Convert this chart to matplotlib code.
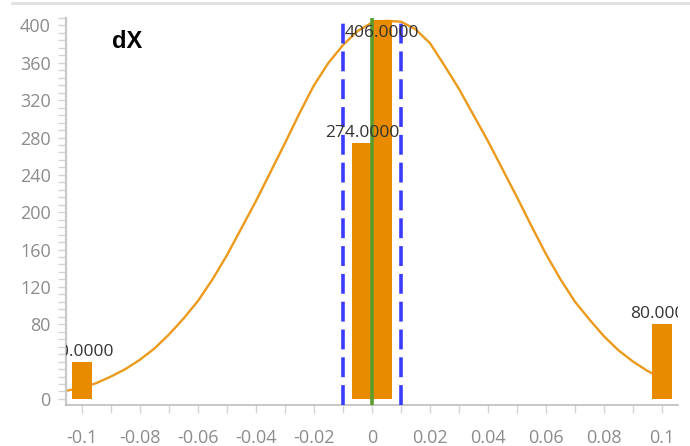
import numpy as np
import matplotlib
matplotlib.use("Agg")
import matplotlib.pyplot as plt
from matplotlib.lines import Line2D
from matplotlib.ticker import FixedLocator, MultipleLocator

# histogram bins (centre, count)
bin_centers = [-0.1, -0.0035, 0.0035, 0.1]
bin_counts = [40, 274, 406, 80]
bin_width = 0.007

# fitted curve
curve_x = [-0.105, -0.1, -0.095, -0.09, -0.085, -0.08, -0.075, -0.07, -0.065, -0.06,
           -0.055, -0.05, -0.045, -0.04, -0.035, -0.03, -0.025, -0.02, -0.015, -0.01,
           -0.005, 0.0, 0.005, 0.01, 0.015, 0.02, 0.025, 0.03, 0.035, 0.04,
           0.045, 0.05, 0.055, 0.06, 0.065, 0.07, 0.075, 0.08, 0.085, 0.09,
           0.095, 0.1]
curve_y = [9, 12, 17, 24, 32, 42, 54, 69, 86, 105,
           128, 154, 183, 212, 243, 274, 306, 336, 360, 379,
           394, 403, 405, 404, 396, 381, 357, 332, 304, 276,
           246, 216, 185, 155, 128, 104, 85, 67, 52, 40,
           30, 22]

mean_x = 0.0
limits_x = [-0.01, 0.01]

x_ticks = [-0.1, -0.08, -0.06, -0.04, -0.02, 0, 0.02, 0.04, 0.06, 0.08, 0.1]
x_labels = ["-0.1", "-0.08", "-0.06", "-0.04", "-0.02", "0", "0.02", "0.04", "0.06", "0.08", "0.1"]
y_ticks = [0, 80, 120, 160, 200, 240, 280, 320, 360, 400]

orange = "#e88b00"
tick_grey = "#8c8c8c"

fig = plt.figure(figsize=(6.9, 4.46), dpi=100)
ax = fig.add_axes([66/690, 1-405/446, 612/690, 387/446])

ax.plot(curve_x, curve_y, color="#eb9a1c", lw=1.7, zorder=1,
        solid_joinstyle="round")
ax.bar(bin_centers, bin_counts, width=bin_width, color=orange, zorder=2)
ax.axvline(mean_x, color="#5c9c2c", lw=2.6, zorder=3)
for lx in limits_x:
    ax.axvline(lx, color="#3b3bff", lw=2.6, dashes=(5.5, 2.2), zorder=3)

ax.set_xlim(-0.1055, 0.1055)
ax.set_ylim(-6.5, 408)

for c, n in zip(bin_centers, bin_counts):
    lab = f"{n:.4f}"
    if n > 380:
        # no room above the top bar, so the label goes inside
        ax.annotate(lab, (c, n), xytext=(0, -4), textcoords="offset points",
                    ha="center", va="top", fontsize=12.5, family="Open Sans",
                    color="#333333", clip_on=True, zorder=4)
    else:
        ax.annotate(lab, (c, n), xytext=(0, 1.5), textcoords="offset points",
                    ha="center", va="bottom", fontsize=12.5, family="Open Sans",
                    color="#333333", clip_on=True, zorder=4)

ax.text(0.075, 0.938, "dX", transform=ax.transAxes, fontsize=17, fontweight="bold",
        family="Liberation Sans", color="black", va="center", ha="left")

ax.xaxis.set_major_locator(FixedLocator(x_ticks))
ax.set_xticklabels(x_labels)
ax.xaxis.set_minor_locator(MultipleLocator(0.01))
ax.yaxis.set_major_locator(FixedLocator(y_ticks))
ax.yaxis.set_minor_locator(MultipleLocator(8))

ax.tick_params(which="both", length=6, width=1, color="#d4d4d4",
               labelcolor=tick_grey, labelsize=13)
ax.tick_params(axis="x", pad=11)
ax.tick_params(axis="y", pad=5)
for lab in ax.get_xticklabels() + ax.get_yticklabels():
    lab.set_family("Open Sans")

for s in ["top", "right"]:
    ax.spines[s].set_visible(False)
ax.spines["left"].set_color("#c8c8c8")
ax.spines["left"].set_linewidth(1.6)
ax.spines["bottom"].set_color("#bdbdbd")
ax.spines["bottom"].set_linewidth(1.2)

fig.add_artist(Line2D([12/690, 1], [1-3/446, 1-3/446], transform=fig.transFigure,
                      color="#e0e0e0", lw=2))

fig.savefig("out.png", dpi=100)
